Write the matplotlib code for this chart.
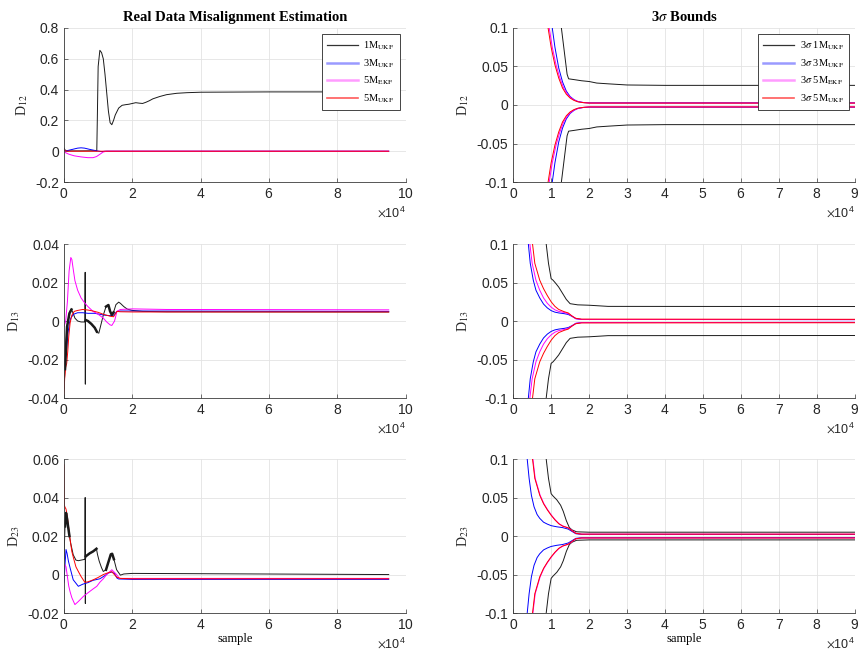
import numpy as np
import matplotlib
matplotlib.use('Agg')
import matplotlib.pyplot as plt
from matplotlib.ticker import FuncFormatter, MultipleLocator

plt.rcParams['font.family'] = 'Liberation Sans'
plt.rcParams['mathtext.fontset'] = 'stix'

# ---------------- data (x in samples) ----------------
# D12 estimates
d12_1m_x = [0, 300, 800, 2000, 5000, 9600, 9750, 10000, 10500, 11000, 11500, 12000, 12500, 13000,
            13500, 14000, 14500, 15000, 16000, 17000, 18000, 19000, 20000, 21000, 22000, 23000,
            24000, 25000, 26000, 28000, 30000, 33000, 36000, 40000, 50000, 60000, 70000, 95000]
d12_1m_y = [0.02, 0.008, 0.003, 0.002, 0.002, 0.003, 0.2, 0.55, 0.655, 0.64, 0.6, 0.5, 0.38, 0.26,
            0.185, 0.172, 0.2, 0.235, 0.28, 0.298, 0.302, 0.305, 0.31, 0.315, 0.312, 0.31,
            0.318, 0.328, 0.34, 0.355, 0.367, 0.376, 0.38, 0.383, 0.384, 0.385, 0.385, 0.385]
d12_3m_x = [0, 200, 1000, 2500, 4000, 5000, 6000, 7500, 9000, 10000, 11000, 12000, 95000]
d12_3m_y = [0.015, 0.005, 0.004, 0.012, 0.02, 0.022, 0.02, 0.012, 0.005, 0.001, -0.003, 0.0, 0.0]
d12_5mekf_x = [0, 500, 1500, 3000, 5000, 7000, 8500, 9500, 10500, 11500, 12500, 95000]
d12_5mekf_y = [0.0, -0.01, -0.02, -0.03, -0.037, -0.042, -0.042, -0.035, -0.02, -0.005, 0.0, 0.0]
d12_5m_x = [0, 300, 1000, 95000]
d12_5m_y = [0.012, 0.004, 0.0, 0.0]

# D13 estimates
d13_1m_x = [0, 300, 600, 900, 1200, 1600, 2000, 2300, 2700, 3200, 4000, 5000, 6000, 6150, 6200,
            6250, 6300, 6400, 7000, 8000, 9000, 9700, 10200, 10800, 11500, 12300, 13000, 13500,
            14000, 14500, 15200, 16000, 16500, 17500, 18500, 20000, 23000, 30000, 95000]
d13_1m_y = [-0.035, -0.025, -0.012, -0.003, 0.0, 0.004, 0.006, 0.0055, 0.004, 0.0015, 0.0, -0.0005,
            -0.0005, 0.0, 0.0253, -0.0328, 0.0, 0.0005, 0.0, -0.0015, -0.0035, -0.006, -0.0063,
            -0.002, 0.003, 0.0075, 0.0083, 0.005, 0.0032, 0.0045, 0.0085, 0.0098, 0.0092, 0.0075,
            0.0062, 0.0055, 0.005, 0.0048, 0.0047]
d13_1m_noisy_x = [300, 900, 1600, 2200, np.nan, 6400, 7000, 8000, 9000, 9600, np.nan,
                  12300, 13000, 13500, 14000, 14500]
d13_1m_noisy_y = [-0.025, -0.003, 0.004, 0.006, np.nan, 0.0005, 0.0, -0.0015, -0.0035, -0.0055, np.nan,
                  0.0075, 0.0083, 0.005, 0.0032, 0.0045]
d13_3m_x = [300, 600, 900, 1200, 1600, 2000, 2800, 4000, 5500, 7000, 9000, 10500, 12000, 13500,
            14500, 15500, 16500, 20000, 95000]
d13_3m_y = [-0.021, -0.018, -0.012, -0.006, -0.001, 0.0015, 0.0035, 0.0043, 0.0043, 0.004, 0.004,
            0.0035, 0.003, 0.0028, 0.003, 0.005, 0.0052, 0.0052, 0.005]
d13_5mekf_x = [0, 500, 1000, 1500, 2000, 2300, 2700, 3200, 4000, 5000, 6000, 7000, 8500, 10000,
               11500, 12500, 13500, 14000, 14800, 15500, 16500, 20000, 30000, 95000]
d13_5mekf_y = [-0.003, 0.0, 0.01, 0.026, 0.033, 0.032, 0.027, 0.021, 0.016, 0.012, 0.0095, 0.0075,
               0.005, 0.0035, 0.0015, -0.0005, -0.002, -0.0023, 0.0, 0.005, 0.006, 0.0063, 0.006, 0.0058]
d13_5m_x = [0, 200, 500, 800, 1100, 1400, 1800, 2300, 3000, 4000, 5500, 7000, 8500, 10000, 11500,
            12500, 13500, 14500, 15500, 16500, 20000, 95000]
d13_5m_y = [-0.038, -0.03, -0.024, -0.022, -0.016, -0.008, -0.001, 0.003, 0.005, 0.0055, 0.006,
            0.0057, 0.0052, 0.0045, 0.0035, 0.003, 0.0025, 0.0022, 0.005, 0.0048, 0.0047, 0.0047]

# D23 estimates
d23_1m_x = [0, 300, 600, 900, 1200, 1600, 2000, 2700, 3500, 4200, 5000, 5800, 6150, 6200, 6250,
            6300, 6400, 7500, 8500, 9500, 9800, 10300, 11000, 11500, 12300, 13000, 13700, 14100,
            14600, 15400, 16500, 17500, 20000, 95000]
d23_1m_y = [0.008, 0.025, 0.032, 0.029, 0.025, 0.02, 0.016, 0.0103, 0.0075, 0.0072, 0.0075, 0.0078,
            0.008, 0.04, -0.015, 0.008, 0.0095, 0.011, 0.012, 0.0134, 0.0105, 0.007, 0.0035, 0.0016,
            0.0025, 0.0065, 0.0105, 0.0108, 0.008, 0.0025, -0.0003, 0.0003, 0.0006, 0.0]
d23_1m_noisy_x = [300, 600, 900, 1200, 1600, np.nan, 6400, 7500, 8500, 9500, np.nan,
                  12300, 13000, 13700, 14100, 14600]
d23_1m_noisy_y = [0.025, 0.032, 0.029, 0.025, 0.02, np.nan, 0.0095, 0.011, 0.012, 0.0134, np.nan,
                  0.0025, 0.0065, 0.0105, 0.0108, 0.008]
d23_3m_x = [0, 300, 600, 900, 1300, 1800, 2700, 4200, 5500, 7000, 8500, 10500, 12000, 13000, 14000,
            14800, 15500, 16000, 20000, 95000]
d23_3m_y = [-0.004, 0.005, 0.013, 0.011, 0.007, 0.0034, -0.0027, -0.0061, -0.005, -0.0042, -0.003,
            -0.0022, -0.0005, 0.0008, 0.0013, 0.0005, -0.0018, -0.0023, -0.0025, -0.0025]
d23_5mekf_x = [0, 300, 600, 1000, 1400, 1800, 2300, 3200, 4200, 5700, 7000, 8500, 9600, 10500,
               11500, 12500, 14000, 15400, 16200, 20000, 95000]
d23_5mekf_y = [0.005, 0.005, 0.004, -0.001, -0.006, -0.009, -0.012, -0.0156, -0.014, -0.0113,
               -0.0095, -0.0075, -0.0061, -0.004, -0.0022, 0.0, 0.0025, 0.0, -0.002, -0.002, -0.002]
d23_5m_x = [0, 100, 300, 600, 1000, 1400, 1800, 2300, 2800, 3500, 4200, 5000, 6100, 7000, 8600,
            10000, 11500, 13000, 14000, 15400, 16500, 20000, 95000]
d23_5m_y = [0.057, 0.036, 0.035, 0.034, 0.03, 0.024, 0.018, 0.012, 0.0085, 0.004, 0.0016, -0.001,
            -0.004, -0.0038, -0.0027, -0.0015, 0.0, 0.001, 0.0015, -0.0013, -0.002, -0.0022, -0.0022]

# 3-sigma bounds (upper; lower is mirrored)
b12_1m_x = [12500, 12700, 13200, 13700, 14200, 14600, 16000, 18000, 20000, 22000, 25000, 30000, 40000, 95000]
b12_1m_y = [0.12, 0.1, 0.08, 0.06, 0.04, 0.034, 0.033, 0.0315, 0.0305, 0.0285, 0.0275, 0.026, 0.0255, 0.0255]
b12_3m_x = [10000, 10300, 11000, 12000, 13000, 14000, 15000, 16000, 17000, 18500, 20000, 95000]
b12_3m_y = [0.12, 0.1, 0.075, 0.048, 0.03, 0.018, 0.011, 0.007, 0.0045, 0.0032, 0.0028, 0.0028]
b12_5mekf_x = [9200, 9500, 10300, 11300, 12300, 13300, 14300, 15300, 16300, 17300, 18800, 20300, 95000]
b12_5mekf_y = [0.12, 0.1, 0.075, 0.052, 0.035, 0.022, 0.014, 0.009, 0.006, 0.0042, 0.003, 0.0025, 0.0025]
b12_5m_x = [8900, 9200, 10000, 11000, 12000, 13000, 14000, 15000, 16000, 17000, 18500, 20000, 95000]
b12_5m_y = [0.12, 0.1, 0.075, 0.052, 0.035, 0.022, 0.014, 0.009, 0.006, 0.0042, 0.003, 0.0025, 0.0025]

b13_1m_x = [8500, 8700, 9300, 10000, 10500, 11200, 12000, 13000, 14000, 15000, 17000, 20000, 25000, 95000]
b13_1m_y = [0.12, 0.1, 0.075, 0.055, 0.053, 0.049, 0.044, 0.036, 0.028, 0.0225, 0.021, 0.0205, 0.019, 0.0188]
b13_3m_x = [3800, 4000, 4500, 5300, 6000, 7000, 8000, 9000, 10000, 11000, 12000, 13500, 14500, 15500,
            16500, 18000, 95000]
b13_3m_y = [0.12, 0.1, 0.075, 0.053, 0.04, 0.03, 0.022, 0.017, 0.0135, 0.0115, 0.0105, 0.0095, 0.0085,
            0.006, 0.003, 0.002, 0.0018]
b13_5mekf_x = [4100, 4400, 5000, 6000, 7000, 8000, 9000, 10000, 11000, 12000, 13500, 14500, 15500,
               16500, 18000, 95000]
b13_5mekf_y = [0.12, 0.1, 0.075, 0.053, 0.04, 0.03, 0.023, 0.018, 0.0145, 0.0125, 0.011, 0.0095,
               0.0065, 0.003, 0.002, 0.0018]
b13_5m_x = [4800, 5100, 5700, 7000, 8000, 9000, 10000, 11000, 12000, 13500, 14500, 15500, 16500,
            18000, 95000]
b13_5m_y = [0.12, 0.1, 0.075, 0.053, 0.042, 0.033, 0.025, 0.019, 0.015, 0.012, 0.0105, 0.0065,
            0.0035, 0.0025, 0.0022]

b23_1m_x = [8500, 8700, 9300, 10000, 10500, 11500, 12500, 13200, 14000, 14800, 15500, 16700, 20000, 95000]
b23_1m_y = [0.12, 0.1, 0.075, 0.055, 0.052, 0.047, 0.04, 0.032, 0.02, 0.011, 0.008, 0.0055, 0.005, 0.005]
b23_3m_x = [3500, 3700, 4200, 4800, 5500, 6300, 7000, 8000, 9000, 10000, 11500, 13000, 14500, 15500,
            16500, 18000, 95000]
b23_3m_y = [0.12, 0.1, 0.075, 0.053, 0.038, 0.028, 0.023, 0.018, 0.0155, 0.0135, 0.012, 0.011, 0.009,
            0.006, 0.003, 0.0022, 0.002]
b23_5mekf_x = [4900, 5200, 5800, 7100, 8100, 9100, 10100, 11100, 12100, 13100, 14600, 15600, 16600,
               18100, 95000]
b23_5mekf_y = [0.12, 0.1, 0.075, 0.053, 0.042, 0.034, 0.027, 0.021, 0.016, 0.013, 0.0105, 0.007,
               0.0035, 0.0025, 0.0025]
b23_5m_x = [4800, 5100, 5700, 7000, 8000, 9000, 10000, 11000, 12000, 13000, 14500, 15500, 16500,
            18000, 95000]
b23_5m_y = [0.12, 0.1, 0.075, 0.053, 0.042, 0.034, 0.027, 0.021, 0.016, 0.013, 0.0105, 0.007,
            0.0035, 0.0025, 0.0025]

labels_est = ['1M$_{\\mathrm{UKF}}$', '3M$_{\\mathrm{UKF}}$', '5M$_{\\mathrm{EKF}}$', '5M$_{\\mathrm{UKF}}$']
labels_bnd = ['3$\\sigma$ 1M$_{\\mathrm{UKF}}$', '3$\\sigma$ 3M$_{\\mathrm{UKF}}$',
              '3$\\sigma$ 5M$_{\\mathrm{EKF}}$', '3$\\sigma$ 5M$_{\\mathrm{UKF}}$']
colors = ['#1a1a1a', '#0000ff', '#ff00ff', '#ff0000']

LW = 0.7
SERIF = 'Liberation Serif'
# legend handles look lighter/thicker in the original rendering
leg_styles = [('#333333', 0.9, 1.0), ('#9a9aff', 1.8, 1.0), ('#ff9cff', 1.8, 1.0), ('#ff5a5a', 1.2, 1.0)]


def style_axes(ax, ylabel, yticks, ylim, xlim, xstep):
    ax.set_xlim(*xlim)
    ax.set_ylim(*ylim)
    ax.set_yticks(yticks)
    ax.xaxis.set_major_locator(MultipleLocator(xstep))
    ax.ticklabel_format(axis='x', style='sci', scilimits=(4, 4), useMathText=True)
    ax.yaxis.set_major_formatter(FuncFormatter(lambda v, p: '%g' % round(v, 6)))
    ax.grid(True, color='#e3e3e3', lw=0.6)
    ax.set_axisbelow(True)
    for s in ['top', 'right']:
        ax.spines[s].set_visible(False)
    for s in ['left', 'bottom']:
        ax.spines[s].set_color('#3a3a3a')
        ax.spines[s].set_linewidth(0.6)
    ax.tick_params(direction='in', length=3, width=0.5, color='#3a3a3a',
                   labelcolor='#262626', labelsize=10)
    ax.xaxis.get_offset_text().set_fontsize(9)
    ax.xaxis.get_offset_text().set_color('#262626')
    ax.set_ylabel(ylabel, family=SERIF, fontsize=10, color='#262626')


def add_legend(ax):
    leg = ax.legend(loc='upper right', prop={'family': SERIF, 'size': 7.5}, fancybox=False,
                    handlelength=3.0, labelspacing=0.5, borderaxespad=0.6, framealpha=1,
                    handletextpad=0.5, borderpad=0.5)
    leg.get_frame().set_edgecolor('#262626')
    leg.get_frame().set_linewidth(0.6)
    for line, (c, lw, a) in zip(leg.get_lines(), leg_styles):
        line.set_color(c)
        line.set_linewidth(lw)
        line.set_alpha(a)


fig = plt.figure(figsize=(8.61, 6.54), dpi=100)
W = 0.397
H = 0.2355
lefts = [0.0743, 0.596]
bottoms = [0.7217, 0.3914, 0.0626]

est = [
    [(d12_1m_x, d12_1m_y), (d12_3m_x, d12_3m_y), (d12_5mekf_x, d12_5mekf_y), (d12_5m_x, d12_5m_y)],
    [(d13_1m_x, d13_1m_y), (d13_3m_x, d13_3m_y), (d13_5mekf_x, d13_5mekf_y), (d13_5m_x, d13_5m_y)],
    [(d23_1m_x, d23_1m_y), (d23_3m_x, d23_3m_y), (d23_5mekf_x, d23_5mekf_y), (d23_5m_x, d23_5m_y)],
]
noisy = [None, (d13_1m_noisy_x, d13_1m_noisy_y), (d23_1m_noisy_x, d23_1m_noisy_y)]
bnd = [
    [(b12_1m_x, b12_1m_y), (b12_3m_x, b12_3m_y), (b12_5mekf_x, b12_5mekf_y), (b12_5m_x, b12_5m_y)],
    [(b13_1m_x, b13_1m_y), (b13_3m_x, b13_3m_y), (b13_5mekf_x, b13_5mekf_y), (b13_5m_x, b13_5m_y)],
    [(b23_1m_x, b23_1m_y), (b23_3m_x, b23_3m_y), (b23_5mekf_x, b23_5mekf_y), (b23_5m_x, b23_5m_y)],
]
ylabels = ['D$_{12}$', 'D$_{13}$', 'D$_{23}$']
est_yticks = [[-0.2, 0, 0.2, 0.4, 0.6, 0.8], [-0.04, -0.02, 0, 0.02, 0.04], [-0.02, 0, 0.02, 0.04, 0.06]]
bnd_yticks = [-0.1, -0.05, 0, 0.05, 0.1]

for r in range(3):
    ax = fig.add_axes([lefts[0], bottoms[r], W, H])
    for i in [0, 1, 2, 3]:
        x, y = est[r][i]
        ax.plot(x, y, color=colors[i], lw=LW, label=labels_est[i])
    if noisy[r] is not None:
        ax.plot(noisy[r][0], noisy[r][1], color=colors[0], lw=1.8)
    style_axes(ax, ylabels[r], est_yticks[r], (est_yticks[r][0], est_yticks[r][-1]), (0, 100000), 20000)
    if r == 0:
        ax.set_title('Real Data Misalignment Estimation', family=SERIF, fontweight='bold',
                     fontsize=10.5, pad=5)
        add_legend(ax)
    if r == 2:
        ax.set_xlabel('sample', family=SERIF, fontsize=9, labelpad=1)

    ax2 = fig.add_axes([lefts[1], bottoms[r], W, H])
    for i in [0, 1, 2, 3]:
        x, y = bnd[r][i]
        ax2.plot(x, y, color=colors[i], lw=LW, label=labels_bnd[i])
        ax2.plot(x, -np.array(y), color=colors[i], lw=LW)
    style_axes(ax2, ylabels[r], bnd_yticks, (-0.1, 0.1), (0, 90000), 10000)
    if r == 0:
        ax2.set_title('3$\\sigma$ Bounds', family=SERIF, fontweight='bold', fontsize=10.5, pad=5)
        add_legend(ax2)
    if r == 2:
        ax2.set_xlabel('sample', family=SERIF, fontsize=9, labelpad=1)

fig.savefig('out.png', dpi=100)
